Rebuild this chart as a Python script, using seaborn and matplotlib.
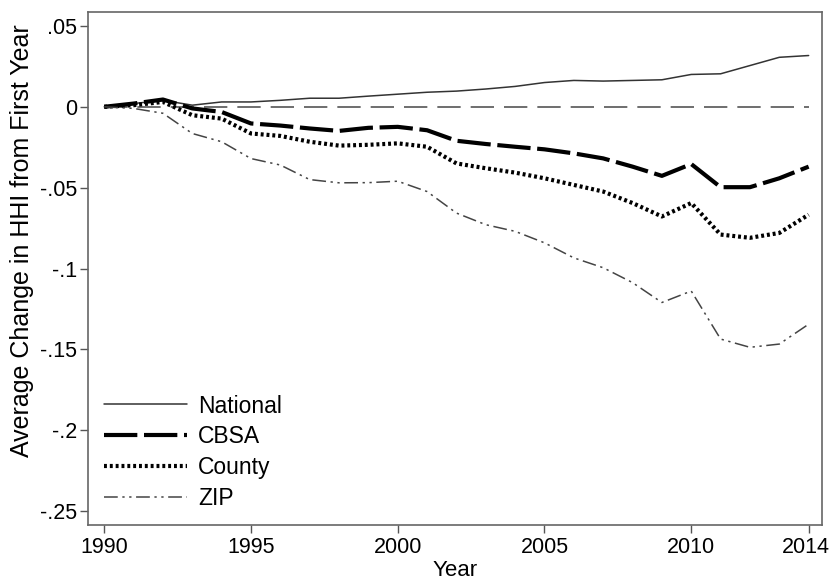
import numpy as np
import pandas as pd
import matplotlib
matplotlib.use('Agg')
import matplotlib.pyplot as plt
import matplotlib.transforms as mtrans
import seaborn as sns

# data
years = list(range(1990, 2015))
national = [0, 0.002, 0.004, 0.001, 0.003, 0.003, 0.004, 0.0053, 0.0053, 0.0066, 0.0078, 0.009,
            0.0097, 0.011, 0.0126, 0.015, 0.0163, 0.0159, 0.0163, 0.0167, 0.020, 0.0204, 0.0255, 0.0306, 0.0317]
cbsa = [0, 0.002, 0.0045, -0.001, -0.0032, -0.0103, -0.0116, -0.0134, -0.0149, -0.013, -0.0124, -0.0145,
        -0.021, -0.023, -0.0247, -0.0263, -0.0288, -0.0319, -0.037, -0.0427, -0.0354, -0.0497, -0.0497, -0.0442, -0.037]
county = [0, 0.001, 0.003, -0.0052, -0.0073, -0.0165, -0.018, -0.0216, -0.024, -0.0235, -0.0226, -0.0247,
          -0.035, -0.038, -0.0407, -0.0442, -0.0483, -0.0524, -0.0595, -0.0678, -0.0595, -0.079, -0.081, -0.078, -0.0667]
zip_ = [0, -0.001, -0.004, -0.0165, -0.0216, -0.032, -0.036, -0.045, -0.047, -0.0469, -0.046, -0.0524,
        -0.0657, -0.0729, -0.077, -0.0841, -0.0934, -0.0995, -0.1087, -0.121, -0.1139, -0.1436, -0.1487, -0.1467, -0.1344]
yticks = [0.05, 0, -0.05, -0.1, -0.15, -0.2, -0.25]
ytick_labels = ['.05', '0', '-.05', '-.1', '-.15', '-.2', '-.25']
xticks = [1990, 1995, 2000, 2005, 2010, 2014]

df = pd.DataFrame({'Year': years, 'National': national, 'CBSA': cbsa,
                   'County': county, 'ZIP': zip_})

sns.set_theme(style='ticks')
plt.rcParams['font.family'] = ['Liberation Sans', 'DejaVu Sans']
plt.rcParams['text.color'] = 'black'
plt.rcParams['axes.labelcolor'] = 'black'

fig, ax = plt.subplots(figsize=(8.31, 5.80), dpi=100)
fig.subplots_adjust(left=0.106, right=0.989, top=0.979, bottom=0.095)

# reference line at zero
ax.hlines(0, years[0], years[-1], colors='#555555', linewidth=1.2,
          linestyles=(0, (14, 6)), zorder=1)

sns.lineplot(data=df, x='Year', y='National', ax=ax, color='#333333', linewidth=1.1,
             label='National')
sns.lineplot(data=df, x='Year', y='CBSA', ax=ax, color='black', linewidth=3,
             linestyle=(0, (8, 1.6)), label='CBSA')
sns.lineplot(data=df, x='Year', y='County', ax=ax, color='black', linewidth=3,
             linestyle=(0, (0.7, 0.7)), label='County')
sns.lineplot(data=df, x='Year', y='ZIP', ax=ax, color='#444444', linewidth=1.1,
             linestyle=(0, (9, 3, 1.5, 3, 1.5, 3)), label='ZIP')

ax.set_xlim(1989.45, 2014.45)
ax.set_ylim(-0.2585, 0.0585)
ax.set_xticks(xticks)
ax.set_yticks(yticks)
ax.set_yticklabels(ytick_labels)
ax.tick_params(axis='both', direction='out', length=6, width=1, color='#555555',
               labelsize=15.5, labelcolor='black')
ax.tick_params(axis='x', pad=3)
ax.tick_params(axis='y', pad=2)
for s in ax.spines.values():
    s.set_visible(True)
    s.set_color('#666666')
    s.set_linewidth(1.2)

# nudge the last year label so it stays inside the figure
last = ax.get_xticklabels()[-1]
last.set_transform(last.get_transform() + mtrans.ScaledTranslation(-3 / 100, 0, fig.dpi_scale_trans))

ax.set_xlabel('Year', fontsize=16, labelpad=1.5, color='black')
ax.set_ylabel('Average Change in HHI from First Year', fontsize=18, color='black')
ax.yaxis.set_label_coords(-0.074, 0.555)

leg = ax.legend(loc='lower left', bbox_to_anchor=(0.0, -0.002), frameon=False, fontsize=16.5,
                handlelength=3.6, handletextpad=0.5, labelspacing=0.34, borderaxespad=0.3)
for t in leg.get_texts():
    t.set_color('black')

fig.savefig('out.png', dpi=100)
